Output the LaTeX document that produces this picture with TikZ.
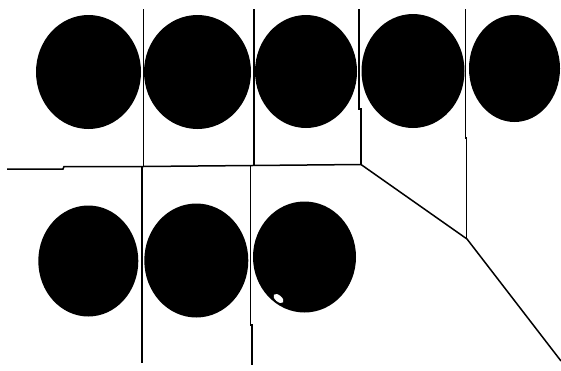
\documentclass[tikz,border=0pt]{standalone}
\begin{document}
\begin{tikzpicture}[x=1pt,y=-1pt,
  disc/.style={fill=black},
  wall/.style={draw=black,line width=1.5pt,line join=miter}]
\useasboundingbox (0,0) rectangle (561,370);
\fill[white] (0,0) rectangle (561,370);
% top row
\fill[disc] (88.5,72) ellipse [x radius=52.5,y radius=57];
\fill[disc] (197.5,72) ellipse [x radius=53.5,y radius=57];
\fill[disc] (306,71.5) ellipse [x radius=51,y radius=56.5];
\fill[disc] (413,71) ellipse [x radius=51.5,y radius=57];
\fill[disc] (514.5,68.5) ellipse [x radius=45.5,y radius=53.5];
% bottom row
\fill[disc] (88.3,261) ellipse [x radius=50,y radius=55.5];
\fill[disc] (196.3,260.5) ellipse [x radius=52,y radius=57];
\fill[disc] (304.5,257) ellipse [x radius=51.5,y radius=55.5];
\fill[white,rotate around={-40:(278.5,298.5)}] (278.5,298.5) ellipse [x radius=6,y radius=3.2];
% lines
\coordinate (h0) at (7,169);
\coordinate (h1) at (63,169);
\coordinate (h2) at (64,166.5);
\coordinate (c1) at (143,166.5);
\coordinate (c2) at (252,165.5);
\coordinate (c3) at (361,164.5);
\coordinate (c4) at (467,239);
\coordinate (c5) at (561,361);
\draw[wall] (h0) -- (h1) -- (h2) -- (c1) -- (c2) -- (c3) -- (c4) -- (c5);
\draw[wall] (143.3,9) -- (143.3,166.5);
\draw[wall] (142,166.5) -- (142,363);
\draw[wall] (254,9) -- (254,165.5);
\draw[wall] (250.7,165.5) -- (250.7,325) -- (252,325) -- (252,365);
\draw[wall] (359,9) -- (359,109) -- (361,109) -- (361,164.5);
\draw[wall] (465.7,9) -- (465.7,138) -- (466.7,138) -- (466.7,239);
\end{tikzpicture}
\end{document}
